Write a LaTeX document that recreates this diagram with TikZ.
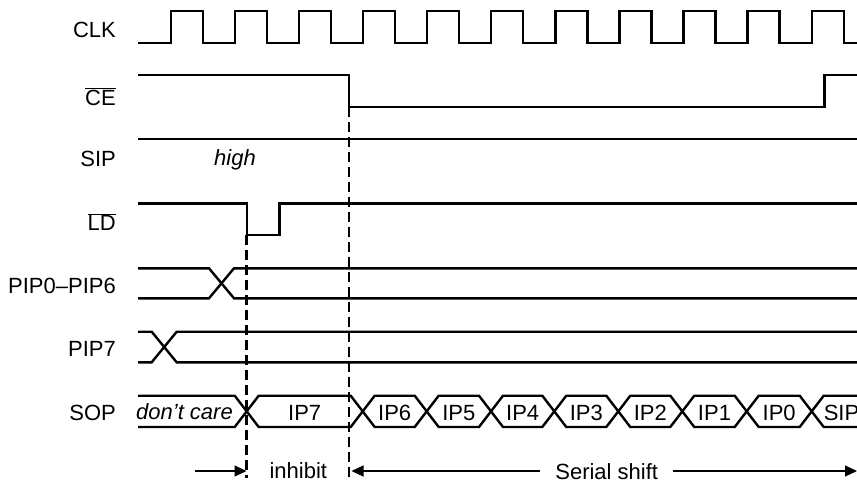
\documentclass[tikz,border=0pt]{standalone}
\usepackage{fontspec}
\setmainfont{Liberation Sans}
\usetikzlibrary{arrows.meta}
\newcommand{\bigtxt}{\fontsize{22}{24}\selectfont}
\begin{document}
\begin{tikzpicture}[x=1pt,y=-1pt,
  wave/.style={line width=2.4pt, line join=miter, line cap=butt},
  dashline/.style={line width=2.8pt, dash pattern=on 10pt off 5pt},
  thinarrow/.style={line width=1.1pt, -{Triangle[length=12pt,width=11pt]}},
  lbl/.style={anchor=base east, inner sep=0pt, font=\bigtxt},
  dtext/.style={anchor=base, inner sep=0pt, font=\bigtxt},
  btext/.style={anchor=base, inner xsep=15pt, inner ysep=0pt, font=\bigtxt}]
\useasboundingbox (0,0) rectangle (857,482);

% labels
\node[lbl] (lclk) at (116,37.7) {CLK};
\node[lbl] (lce) at (116,105) {$\overline{\hbox{CE}}$};
\node[lbl] (lsip) at (116,166.7) {SIP};
\node[lbl] (lld) at (116,230.5) {$\overline{\hbox{LD}}$};
\node[lbl] (lpip) at (116,293.5) {PIP0–PIP6};
\node[lbl] (lpip7) at (116,356) {PIP7};
\node[lbl] (lsop) at (116,420.5) {SOP};

% CLK
\draw[wave] (138,43) \foreach \k in {0,...,10} {
  -- ({170.7+64.1*\k},43) -- ({170.7+64.1*\k},11) -- ({202.7+64.1*\k},11) -- ({202.7+64.1*\k},43) } -- (862,43);

% CE
\draw[wave] (138,75) -- (349,75) -- (349,107) -- (824.3,107) -- (824.3,75) -- (862,75);

% SIP
\draw[wave] (138,139) -- (862,139);
\node[dtext,font=\bigtxt\itshape] (high) at (235,165) {high};

% LD
\draw[wave] (138,203.3) -- (246.7,203.3) -- (246.7,235) -- (279.3,235) -- (279.3,203.3) -- (862,203.3);

% PIP0-PIP6
\draw[wave] (138,268.3) -- (209,268.3) -- (234,298.3) -- (862,298.3);
\draw[wave] (138,298.3) -- (209,298.3) -- (234,268.3) -- (862,268.3);

% PIP7
\draw[wave] (138,331.7) -- (151.7,331.7) -- (176.7,362.3) -- (862,362.3);
\draw[wave] (138,362.3) -- (151.7,362.3) -- (176.7,331.7) -- (862,331.7);

% SOP
\def\tp{395.7}\def\bt{427}\def\md{411.35}\def\hw{12}
\draw[wave] (138,\tp) -- ({246.7-\hw},\tp) -- (246.7,\md) -- ({246.7-\hw},\bt) -- (138,\bt);
\node[dtext,font=\bigtxt\itshape] (dc) at (184.5,419.5) {don’t care};
\foreach \a/\b/\t in {246.7/362.7/IP7, 362.7/426.7/IP6, 426.7/491/IP5, 491/554.3/IP4,
  554.3/618.3/IP3, 618.3/682.3/IP2, 682.3/746.7/IP1, 746.7/811.7/IP0} {
  \draw[wave] (\a,\md) -- ({\a+\hw},\tp) -- ({\b-\hw},\tp) -- (\b,\md) -- ({\b-\hw},\bt) -- ({\a+\hw},\bt) -- cycle;
  \node[dtext] (s\t) at ({(\a+\b)/2},420) {\t};
}
\draw[wave] (862,\tp) -- ({811.7+\hw},\tp) -- (811.7,\md) -- ({811.7+\hw},\bt) -- (862,\bt);
\node[dtext] (sSIP) at (841.5,420) {SIP};

% dashed markers
\draw[dashline] (246.7,235) -- (246.7,478);
\draw[dashline] (349,107) -- (349,482);

% bottom annotations
\node[dtext] (inh) at (298.3,478.5) {inhibit};
\node[btext] (ser) at (606.7,479) {Serial shift};
\coordinate (a0) at (195,471);
\coordinate (a1) at (246.5,471);
\coordinate (a2) at (351.5,471);
\coordinate (a3) at (857,471);
\draw[thinarrow] (a0) -- (a1);
\draw[thinarrow] (ser.west |- a2) -- (a2);
\draw[thinarrow] (ser.east |- a3) -- (a3);
\end{tikzpicture}
\end{document}
